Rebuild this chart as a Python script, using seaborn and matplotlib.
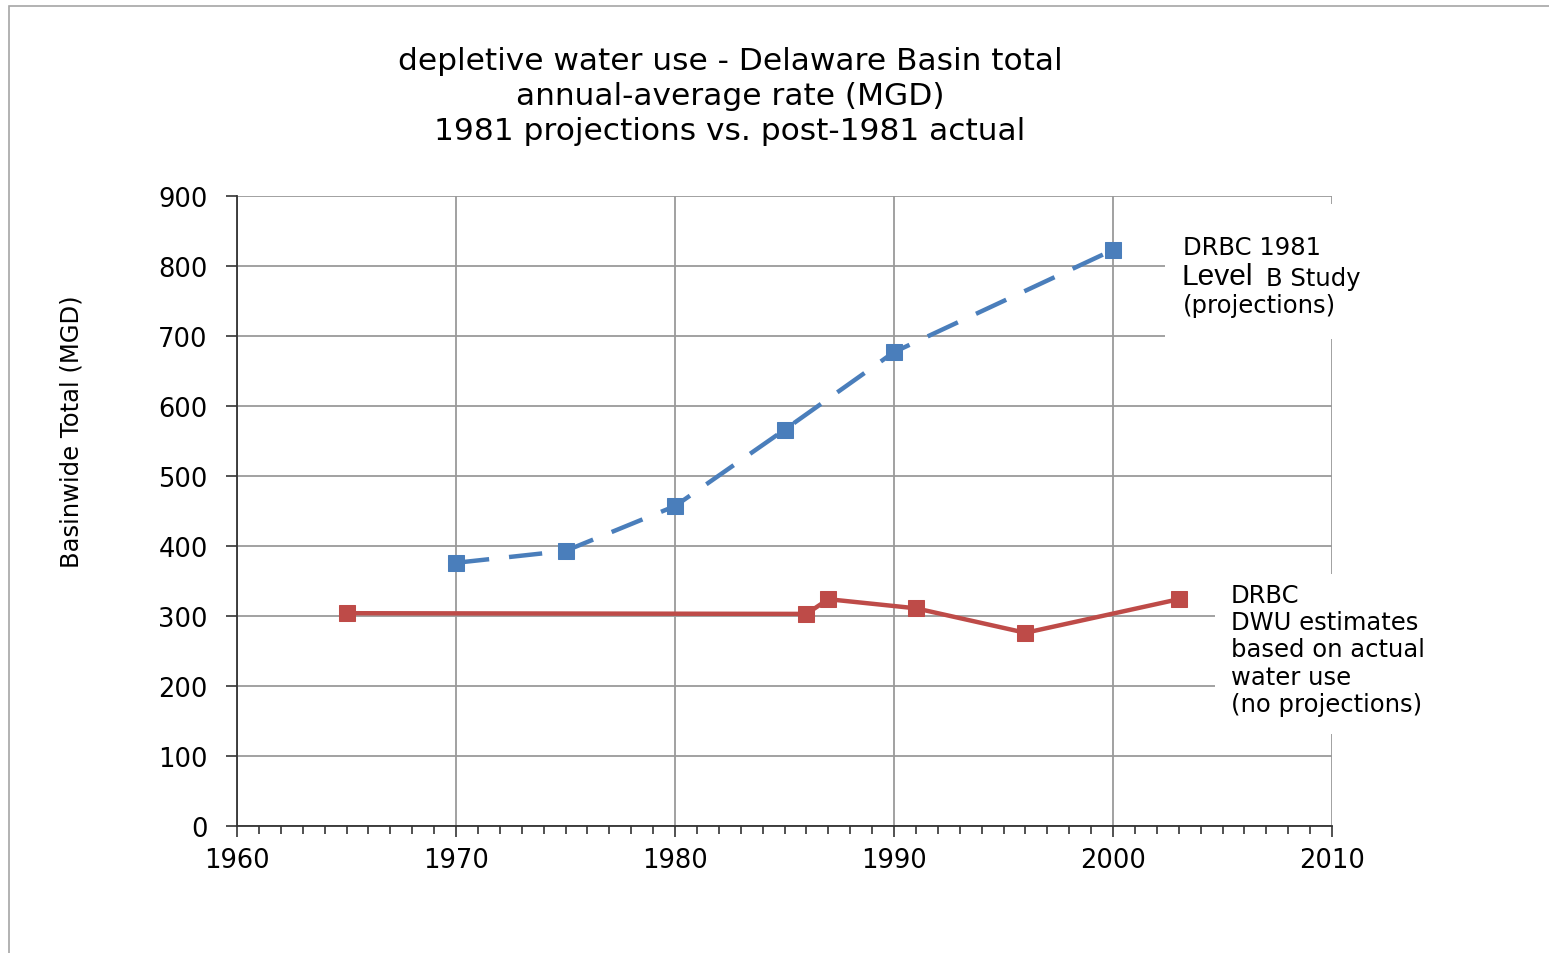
import numpy as np
import pandas as pd
import seaborn as sns
from matplotlib import pyplot as plt
from matplotlib.patches import Rectangle

# 1981 Level B Study projections
proj_years = [1970, 1975, 1980, 1985, 1990, 2000]
proj_mgd = [376, 393, 457, 566, 677, 823]

# DRBC depletive water use estimates (actual)
actual_years = [1965, 1986, 1987, 1991, 1996, 2003]
actual_mgd = [304, 303, 324, 311, 276, 324]

title_lines = ['depletive water use - Delaware Basin total',
               'annual-average rate (MGD)',
               '1981 projections vs. post-1981 actual']
y_label = 'Basinwide Total (MGD)'
x_ticks = [1960, 1970, 1980, 1990, 2000, 2010]
y_ticks = list(range(0, 1000, 100))

blue = '#4a7ebb'
red = '#be4b48'

sns.set_style('white')
plt.rcParams['font.family'] = ['DejaVu Sans']
plt.rcParams['text.color'] = 'black'
plt.rcParams['xtick.labelcolor'] = 'black'
plt.rcParams['ytick.labelcolor'] = 'black'

W, H = 1549, 954
fig = plt.figure(figsize=(W / 100, H / 100), dpi=100)
ax = fig.add_axes([237 / W, 1 - 827 / H, (1332 - 237) / W, (827 - 197) / H])


def px(x, y):
	# pixel position (from top-left) -> figure fraction
	return x / W, 1 - y / H


df_proj = pd.DataFrame({'year': proj_years, 'mgd': proj_mgd})
df_act = pd.DataFrame({'year': actual_years, 'mgd': actual_mgd})

sns.lineplot(data=df_proj, x='year', y='mgd', ax=ax, color=blue, lw=3.2,
             marker='s', markersize=11, markeredgecolor=blue, zorder=4)
ax.lines[-1].set_dashes((7.5, 4.5))
sns.lineplot(data=df_act, x='year', y='mgd', ax=ax, color=red, lw=3.2,
             marker='s', markersize=11, markeredgecolor=red, zorder=4)

ax.set_xlim(1960, 2010)
ax.set_ylim(0, 900)
ax.set_xticks(x_ticks)
ax.set_xticks(np.arange(1960, 2011, 1), minor=True)
ax.set_yticks(y_ticks)
ax.grid(True, which='major', color='#9a9a9a', lw=1.3)
ax.set_axisbelow(True)
for s in ['top', 'right']:
	ax.spines[s].set_visible(False)
for s in ['left', 'bottom']:
	ax.spines[s].set_color('#333333')
	ax.spines[s].set_linewidth(1.3)
ax.tick_params(axis='both', which='major', direction='out', length=8, width=1.2,
               color='#333333', labelcolor='black', labelsize=18.5, left=True, bottom=True)
ax.tick_params(axis='x', which='major', pad=7)
ax.tick_params(axis='y', which='major', pad=13)
ax.tick_params(axis='x', which='minor', direction='out', length=6, width=1.2,
               color='#333333', bottom=True)
ax.set_xlabel('')
ax.set_ylabel('')
fig.text(*px(72, 432), y_label, fontsize=17.5, rotation=90, ha='center', va='center')

# title
for i, line in enumerate(title_lines):
	fig.text(*px(730, 61 + i * 35.5), line, fontsize=22.5, ha='center', va='center')

# white masks behind the side notes
fig.add_artist(Rectangle(px(1165, 340), 250 / W, 135 / H, transform=fig.transFigure,
                         facecolor='white', edgecolor='none', zorder=1))
fig.add_artist(Rectangle(px(1215, 735), 230 / W, 160 / H, transform=fig.transFigure,
                         facecolor='white', edgecolor='none', zorder=1))

fs = 17.5
fig.text(*px(1183, 248), 'DRBC 1981', fontsize=fs, va='center', zorder=2)
fig.text(*px(1182, 277), 'Level', family='Liberation Sans', fontsize=21.5, va='center', zorder=2)
fig.text(*px(1266, 279), 'B Study', fontsize=fs, va='center', zorder=2)
fig.text(*px(1183, 306), '(projections)', fontsize=fs, va='center', zorder=2)

fig.text(*px(1231, 584), 'DRBC\nDWU estimates\nbased on actual\nwater use\n(no projections)',
         fontsize=fs, va='top', linespacing=1.17, zorder=2)

# outer frame
fig.add_artist(Rectangle(px(9, 980), 1560 / W, 973 / H, transform=fig.transFigure,
                         facecolor='none', edgecolor='#a6a6a6', lw=1.2, zorder=3))

fig.savefig('out.png', dpi=100)
